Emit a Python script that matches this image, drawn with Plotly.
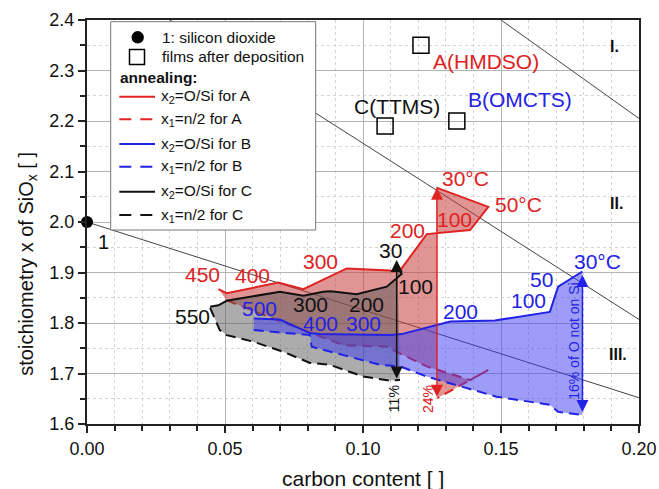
import plotly.graph_objects as go

# ---------------- data ----------------
sio2_x = [0.0]
sio2_y = [2.0]

film_names = ["A(HMDSO)", "B(OMCTS)", "C(TTMS)"]
film_x = [0.121, 0.134, 0.108]
film_y = [2.350, 2.200, 2.190]
film_label_x = [0.1447, 0.1570, 0.1122]
film_label_y = [2.317, 2.242, 2.228]

# boundary lines between regions I / II / III
bound1_x = [0.150, 0.200]
bound1_y = [2.400, 2.205]
bound2_x = [0.030, 0.200]
bound2_y = [2.400, 1.807]
bound3_x = [0.000, 0.200]
bound3_y = [2.000, 1.652]
zone_names = ["I.", "II.", "III."]
zone_x = [0.191, 0.192, 0.1925]
zone_y = [2.347, 2.037, 1.737]

# film A (HMDSO) annealing: x2 = O/Si (solid), x1 = n/2 (dashed)
A_x2_x = [0.0476, 0.0506, 0.0693, 0.0784, 0.0941, 0.1098, 0.1110, 0.1140, 0.1231, 0.1388, 0.1454, 0.1266]
A_x2_y = [1.867, 1.859, 1.880, 1.867, 1.908, 1.904, 1.902, 1.908, 1.976, 1.984, 2.030, 2.068]
A_x1_x = [0.0506, 0.0663, 0.0832, 0.0929, 0.1098, 0.1110, 0.1231, 0.1388, 0.1454, 0.1269]
A_x1_y = [1.845, 1.811, 1.776, 1.756, 1.753, 1.746, 1.714, 1.687, 1.707, 1.651]

# film B (OMCTS)
B_x2_x = [0.0604, 0.0699, 0.0808, 0.0844, 0.1098, 0.1140, 0.1316, 0.1478, 0.1677, 0.1707, 0.1795]
B_x2_y = [1.809, 1.807, 1.780, 1.778, 1.776, 1.778, 1.803, 1.805, 1.822, 1.872, 1.902]
B_x1_x = [0.0604, 0.0711, 0.0808, 0.0814, 0.0906, 0.1064, 0.1134, 0.1231, 0.1484, 0.1677, 0.1707, 0.1795]
B_x1_y = [1.786, 1.780, 1.776, 1.753, 1.740, 1.717, 1.714, 1.694, 1.654, 1.638, 1.624, 1.618]

# film C (TTMS)
C_x2_x = [0.0446, 0.0476, 0.0506, 0.0699, 0.0784, 0.0856, 0.0883, 0.0977, 0.1086, 0.1140, 0.1125]
C_x2_y = [1.832, 1.835, 1.844, 1.862, 1.854, 1.862, 1.863, 1.857, 1.872, 1.897, 1.915]
C_x1_x = [0.0446, 0.0481, 0.0506, 0.0603, 0.0711, 0.0808, 0.0881, 0.1001, 0.1098, 0.1134]
C_x1_y = [1.830, 1.786, 1.776, 1.763, 1.743, 1.721, 1.717, 1.694, 1.686, 1.687]

# temperature labels (°C)
A_temp_text = ["450", "400", "300", "200", "100", "50°C", "30°C"]
A_temp_x = [0.0418, 0.0599, 0.0847, 0.1161, 0.1333, 0.1563, 0.1372]
A_temp_y = [1.897, 1.895, 1.921, 1.984, 2.004, 2.034, 2.086]
B_temp_text = ["500", "400", "300", "200", "100", "50", "30°C"]
B_temp_x = [0.0626, 0.0847, 0.1001, 0.1354, 0.1599, 0.1647, 0.1849]
B_temp_y = [1.829, 1.799, 1.799, 1.823, 1.844, 1.886, 1.921]
C_temp_text = ["550", "300", "200", "100", "30"]
C_temp_x = [0.0384, 0.0808, 0.1011, 0.1192, 0.1098]
C_temp_y = [1.813, 1.836, 1.836, 1.872, 1.944]

# double arrows (x, top, bottom) and their percentage labels
arrow_x = [0.1268, 0.1122, 0.1795]
arrow_top = [2.068, 1.925, 1.895]
arrow_bot = [1.651, 1.687, 1.621]
pct_text = ["24%", "11%", "16% of O not on Si"]
pct_x = [0.1233, 0.1113, 0.1765]
pct_y = [1.650, 1.6496, 1.765]

# ---------------- style ----------------
RED = "#e02222"
BLUE = "#2222e6"
BLACK = "#111111"
FONT = "Liberation Sans, Arial, sans-serif"
DASH = "10px,6px"

L, R, T, B = 87, 20, 20, 65
W, H = 659, 489
PW, PH = W - L - R, H - T - B


def PX(px):
    return (px - L) / PW


def PY(py):
    return (H - B - py) / PH


fig = go.Figure()

# boundary lines
for bx, by in [(bound1_x, bound1_y), (bound2_x, bound2_y), (bound3_x, bound3_y)]:
    fig.add_trace(go.Scatter(x=bx, y=by, mode="lines", line=dict(color="#444444", width=1),
                             hoverinfo="skip", showlegend=False))

def add_film(x2x, x2y, x1x, x1y, fillcol, linecol):
    fig.add_trace(go.Scatter(x=x2x + x1x[::-1], y=x2y + x1y[::-1], fill="toself",
                             fillcolor=fillcol, mode="lines", line=dict(width=0),
                             hoverinfo="skip", showlegend=False))
    fig.add_trace(go.Scatter(x=x2x, y=x2y, mode="lines", line=dict(color=linecol, width=2),
                             showlegend=False))
    fig.add_trace(go.Scatter(x=x1x, y=x1y, mode="lines",
                             line=dict(color=linecol, width=2, dash=DASH), showlegend=False))

add_film(A_x2_x, A_x2_y, A_x1_x, A_x1_y, "rgba(200,60,60,0.55)", RED)
add_film(C_x2_x, C_x2_y, C_x1_x, C_x1_y, "rgba(90,90,90,0.5)", BLACK)
add_film(B_x2_x, B_x2_y, B_x1_x, B_x1_y, "rgba(60,60,240,0.5)", BLUE)

# SiO2 point and deposited films
fig.add_trace(go.Scatter(x=sio2_x, y=sio2_y, mode="markers",
                         marker=dict(color="black", size=12), cliponaxis=False, showlegend=False))
fig.add_trace(go.Scatter(x=film_x, y=film_y, mode="markers",
                         marker=dict(symbol="square-open", color="black", size=16,
                                     line=dict(width=1.5)), showlegend=False))

ann = []
def txt(x, y, t, col, size=21, **kw):
    d = dict(x=x, y=y, text=t, showarrow=False, xref="x", yref="y",
             font=dict(family=FONT, size=size, color=col), xanchor="center", yanchor="middle")
    d.update(kw)
    ann.append(d)

film_cols = [RED, BLUE, BLACK]
for n, x, y, c in zip(film_names, film_label_x, film_label_y, film_cols):
    txt(x, y, n, c)
for t, x, y in zip(A_temp_text, A_temp_x, A_temp_y):
    txt(x, y, t, RED)
for t, x, y in zip(B_temp_text, B_temp_x, B_temp_y):
    txt(x, y, t, BLUE)
for t, x, y in zip(C_temp_text, C_temp_x, C_temp_y):
    txt(x, y, t, BLACK)
for t, x, y in zip(zone_names, zone_x, zone_y):
    txt(x, y, "<b>" + t + "</b>", BLACK, size=16)
txt(0.0059, 1.9604, "1", BLACK, size=20)

for ax_, top, bot, c in zip(arrow_x, arrow_top, arrow_bot, [RED, BLACK, BLUE]):
    ann.append(dict(x=ax_, y=top, ax=ax_, ay=bot, xref="x", yref="y", axref="x", ayref="y",
                    text="", showarrow=True, arrowhead=2, arrowside="end+start",
                    arrowsize=1.6, arrowwidth=1.5, arrowcolor=c, standoff=0, startstandoff=0))
for t, x, y, c in zip(pct_text, pct_x, pct_y, [RED, BLACK, BLUE]):
    txt(x, y, t, c, size=14, textangle=-90)

# axis titles
ann.append(dict(x=0.5, y=PY(478), xref="paper", yref="paper", showarrow=False,
                text="carbon content [ ]", font=dict(family=FONT, size=21, color=BLACK),
                xanchor="center", yanchor="middle"))
ann.append(dict(x=PX(26.7), y=PY(264), xref="paper", yref="paper", showarrow=False,
                text="stoichiometry x of SiO<sub>x</sub> [ ]", textangle=-90,
                font=dict(family=FONT, size=20, color=BLACK),
                xanchor="center", yanchor="middle"))

# manual legend
shapes = []
shapes.append(dict(type="rect", xref="paper", yref="paper", x0=PX(110.7), x1=PX(315.7),
                   y0=PY(230), y1=PY(21.7), fillcolor="white",
                   line=dict(color="#777777", width=1), layer="above"))
shapes.append(dict(type="circle", xref="paper", yref="paper", x0=PX(131.5), x1=PX(143.9),
                   y0=PY(43.5), y1=PY(31.1), fillcolor="black", line=dict(color="black", width=0),
                   layer="above"))
shapes.append(dict(type="rect", xref="paper", yref="paper", x0=PX(129.5), x1=PX(144.5),
                   y0=PY(64.5), y1=PY(49.5), fillcolor="white", line=dict(color="black", width=1.5),
                   layer="above"))
LEG_FS = 15.5
def leg_text(py, t, left=159.3):
    ann.append(dict(x=PX(left), y=PY(py), xref="paper", yref="paper", showarrow=False, text=t,
                    font=dict(family=FONT, size=LEG_FS, color=BLACK), xanchor="left",
                    yanchor="middle"))
leg_text(37.3, "1: silicon dioxide", 160)
leg_text(57, "films after deposition", 160)
leg_text(77, "<b>annealing:</b>", 118)
leg_rows = [(96.7, RED, "solid", "x<sub>2</sub>=O/Si for A"),
            (119.3, RED, "dash", "x<sub>1</sub>=n/2 for A"),
            (144, BLUE, "solid", "x<sub>2</sub>=O/Si for B"),
            (166.7, BLUE, "dash", "x<sub>1</sub>=n/2 for B"),
            (191.7, BLACK, "solid", "x<sub>2</sub>=O/Si for C"),
            (215, BLACK, "dash", "x<sub>1</sub>=n/2 for C")]
for py, c, d, t in leg_rows:
    shapes.append(dict(type="line", xref="paper", yref="paper", x0=PX(119.3), x1=PX(155),
                       y0=PY(py), y1=PY(py),
                       line=dict(color=c, width=2, dash=("12px,9px" if d == "dash" else "solid")),
                       layer="above"))
    leg_text(py, t)

axis_common = dict(showline=True, linecolor="#222222", linewidth=2, mirror=True,
                   ticks="outside", ticklen=7, tickwidth=1.5, tickcolor="#222222",
                   showgrid=True, gridcolor="#b4b4b4", gridwidth=1, zeroline=False,
                   automargin=False,
                   tickfont=dict(family=FONT, size=18, color=BLACK))

fig.update_layout(
    width=W, height=H, margin=dict(l=L, r=R, t=T, b=B, autoexpand=False),
    paper_bgcolor="white", plot_bgcolor="white",
    xaxis=dict(range=[0, 0.2], dtick=0.05, tick0=0, tickformat=".2f",
               minor=dict(dtick=0.01, ticks="outside", ticklen=5, tickcolor="#222222",
                          showgrid=True, gridcolor="#d4d4d4", griddash="dot"),
               **axis_common),
    yaxis=dict(range=[1.6, 2.4], dtick=0.1, tick0=1.6, tickformat=".1f",
               minor=dict(dtick=0.05, ticks="outside", ticklen=5, tickcolor="#222222",
                          showgrid=True, gridcolor="#d4d4d4", griddash="dot"),
               **axis_common),
    annotations=ann, shapes=shapes, showlegend=False,
)

fig.write_html("out.html")
